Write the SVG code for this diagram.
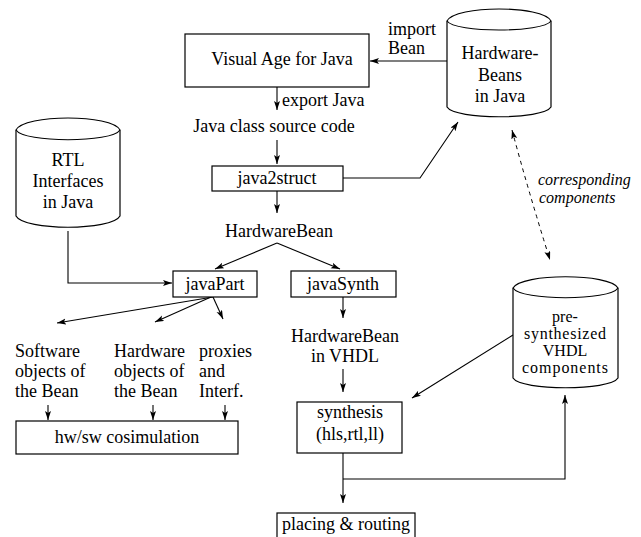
<svg xmlns="http://www.w3.org/2000/svg" width="641" height="537" viewBox="0 0 641 537">
<defs>
<style>
text{font-family:"Liberation Serif","Times New Roman",serif;font-size:18px;fill:#000}
.c{text-anchor:middle}
.sm{font-size:16px}
.it{font-style:italic;font-size:16px}
.box{fill:#fff;stroke:#000;stroke-width:1.2}
.cyl{fill:#fff;stroke:#000;stroke-width:1.2}
.ln{fill:none;stroke:#000;stroke-width:1.1}
.dash{fill:none;stroke:#000;stroke-width:1;stroke-dasharray:4,4}
</style>
<marker id="ah" markerWidth="10" markerHeight="8" refX="9" refY="3" orient="auto-start-reverse" markerUnits="userSpaceOnUse">
<path d="M0,0 L9,3 L0,6 L2,3 z" fill="#000"/>
</marker>
</defs>
<rect width="641" height="537" fill="#fff"/>

<g id="connectors">
<path class="ln" d="M447,61 L370,61" marker-end="url(#ah)"/>
<path class="ln" d="M277,87 L277,110" marker-end="url(#ah)"/>
<path class="ln" d="M277,140 L277,164" marker-end="url(#ah)"/>
<path class="ln" d="M343,178 L420,178 L458,122" marker-end="url(#ah)"/>
<path class="ln" d="M277,191 L277,213" marker-end="url(#ah)"/>
<path class="ln" d="M277,243 L215,269" marker-end="url(#ah)"/>
<path class="ln" d="M277,243 L340,269" marker-end="url(#ah)"/>
<path class="ln" d="M68,231 L68,283 L172,283" marker-end="url(#ah)"/>
<path class="ln" d="M213,297 L57,323" marker-end="url(#ah)"/>
<path class="ln" d="M211,297 L155,322" marker-end="url(#ah)"/>
<path class="ln" d="M213,297 L223,319" marker-end="url(#ah)"/>
<path class="ln" d="M48,405 L48,420" marker-end="url(#ah)"/>
<path class="ln" d="M153,405 L153,420" marker-end="url(#ah)"/>
<path class="ln" d="M225,405 L225,420" marker-end="url(#ah)"/>
<path class="ln" d="M343,297 L343,318" marker-end="url(#ah)"/>
<path class="ln" d="M343,369 L343,392" marker-end="url(#ah)"/>
<path class="ln" d="M513,335 L412,398" marker-end="url(#ah)"/>
<path class="ln" d="M343,453 L343,503" marker-end="url(#ah)"/>
<path class="ln" d="M343,479 L565,479 L565,395" marker-end="url(#ah)"/>
<path class="dash" d="M512,130 Q528,190 550,260" marker-start="url(#ah)" marker-end="url(#ah)"/>
<text class="it" x="538" y="185">corresponding</text>
<text class="it" x="539" y="203">components</text>
<text x="388" y="35">import</text>
<text x="388" y="54">Bean</text>
<text x="282" y="106">export Java</text>
</g>

<g id="visualage">
<rect class="box" x="185" y="34" width="184" height="53"/>
<text class="c" x="282" y="65">Visual Age for Java</text>
</g>

<g id="hwbeans">
<path class="cyl" d="M447,21 C455,5 543,5 551,21 L551,107 C543,120 455,120 447,107 Z"/>
<path class="ln" d="M447,21 C455,33 543,33 551,21"/>
<text class="c" x="500" y="59">Hardware-</text>
<text class="c" x="500" y="81">Beans</text>
<text class="c" x="500" y="102">in Java</text>
</g>

<g id="javasrc">
<text class="c" x="274" y="132">Java class source code</text>
</g>

<g id="java2struct">
<rect class="box" x="212" y="166" width="131" height="25"/>
<text class="c" x="277" y="184">java2struct</text>
</g>

<g id="hwbean">
<text class="c" x="279" y="237">HardwareBean</text>
</g>

<g id="rtl">
<path class="cyl" d="M16,130 C24,114 112,114 120,130 L120,216 C112,231 24,231 16,216 Z"/>
<path class="ln" d="M16,130 C24,143 112,143 120,130"/>
<text class="c" x="68" y="166">RTL</text>
<text class="c" x="68" y="187">Interfaces</text>
<text class="c" x="68" y="208">in Java</text>
</g>

<g id="javapart">
<rect class="box" x="173" y="271" width="84" height="26"/>
<text class="c" x="215" y="290">javaPart</text>
</g>

<g id="javasynth">
<rect class="box" x="291" y="271" width="105" height="26"/>
<text class="c" x="343" y="290">javaSynth</text>
</g>

<g id="swobj">
<text x="15" y="357">Software</text>
<text x="15" y="377">objects of</text>
<text x="15" y="397">the Bean</text>
</g>

<g id="hwobj">
<text x="114" y="357">Hardware</text>
<text x="114" y="377">objects of</text>
<text x="114" y="397">the Bean</text>
</g>

<g id="proxies">
<text x="199" y="357">proxies</text>
<text x="199" y="377">and</text>
<text x="199" y="397">Interf.</text>
</g>

<g id="cosim">
<rect class="box" x="16" y="421" width="222" height="33"/>
<text class="c" x="127" y="443">hw/sw cosimulation</text>
</g>

<g id="hwbeanvhdl">
<text class="c" x="345" y="342">HardwareBean</text>
<text class="c" x="345" y="362">in VHDL</text>
</g>

<g id="synthesis">
<rect class="box" x="297" y="402" width="105" height="51"/>
<text class="c" x="350" y="418">synthesis</text>
<text class="c" x="350" y="440">(hls,rtl,ll)</text>
</g>

<g id="presynth">
<path class="cyl" d="M513,288 C521,273 610,273 618,288 L618,378 C610,391 521,391 513,378 Z"/>
<path class="ln" d="M513,288 C521,301 610,301 618,288"/>
<text class="c sm" x="565" y="322">pre-</text>
<text class="c sm" x="565" y="339" textLength="82" lengthAdjust="spacing">synthesized</text>
<text class="c sm" x="565" y="356">VHDL</text>
<text class="c sm" x="565" y="373" textLength="86" lengthAdjust="spacing">components</text>
</g>

<g id="placing">
<rect class="box" x="277" y="513" width="138" height="30"/>
<text class="c" x="346" y="530">placing &amp; routing</text>
</g>
</svg>
